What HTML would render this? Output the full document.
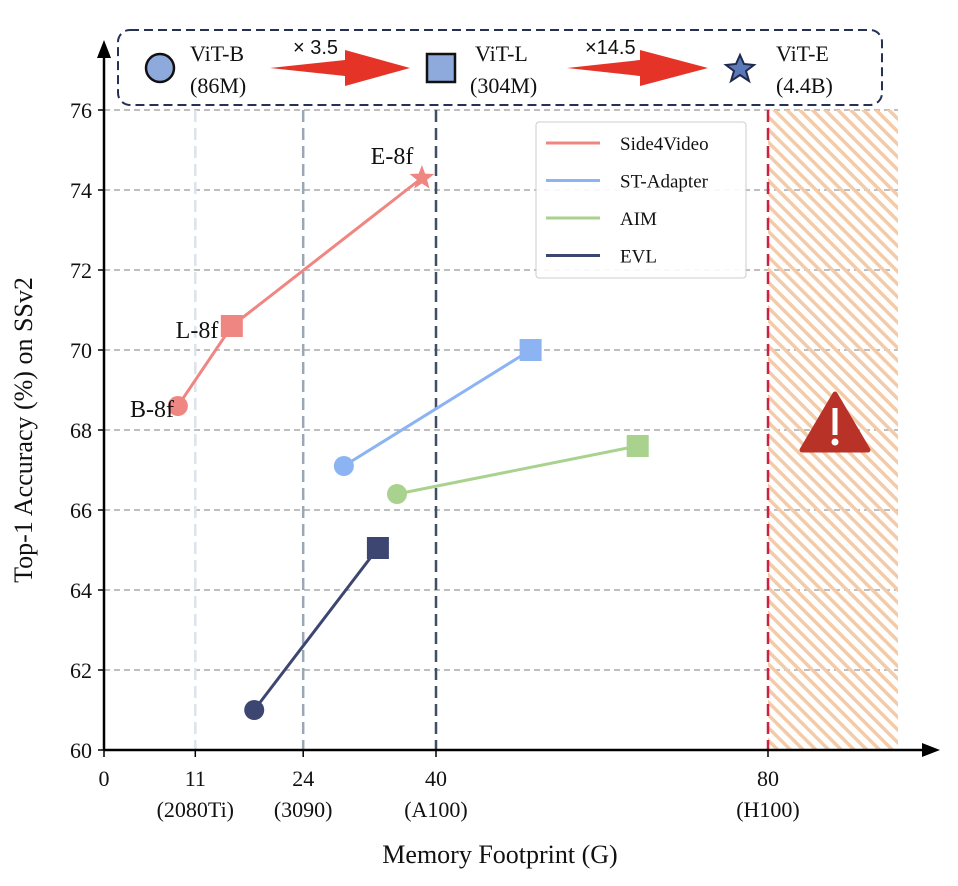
<!DOCTYPE html>
<html><head><meta charset="utf-8"><style>
body{margin:0;background:#fff;}
svg{display:block;font-family:"Liberation Serif",serif;}
</style></head><body>
<svg width="958" height="886" viewBox="0 0 958 886">
<defs>
<pattern id="hatch" patternUnits="userSpaceOnUse" width="9" height="9" patternTransform="rotate(-45)">
<rect x="0" y="0" width="3.5" height="9" fill="#f3cba9"/>
</pattern>
</defs>
<g id="grid"></g>
<rect x="768" y="110" width="130" height="640" fill="url(#hatch)"/>
<g id="vlines"></g>
<g id="series"></g>
<g id="axes"></g>
<g transform="translate(835,422)">
<path d="M0,-28 L33,28 L-33,28 Z" fill="#b83227" stroke="#b83227" stroke-width="5" stroke-linejoin="round"/>
<rect x="-2.5" y="-14" width="5" height="27" fill="#fff"/>
<circle cx="0" cy="20" r="3.5" fill="#fff"/>
</g>
<g>
<rect x="536" y="122" width="210" height="156" rx="3" fill="#fff" fill-opacity="0.9" stroke="#ccc"/>
<g id="legend-items"></g>
</g>
<g>
<rect x="118" y="30" width="764" height="75" rx="12" fill="#fff" stroke="#253255" stroke-width="2" stroke-dasharray="9,5"/>
<circle cx="160" cy="68" r="14" fill="#8ea9db" stroke="#111" stroke-width="2.5"/>
<text x="190" y="61" font-size="22" fill="#111">ViT-B</text>
<text x="190" y="93" font-size="22" fill="#111">(86M)</text>
<path d="M270,68 L345,60 L345,50 L410,68 L345,86 L345,76 Z" fill="#e53427"/>
<text x="293" y="54" font-size="20" font-family="Liberation Sans,sans-serif" fill="#111">× 3.5</text>
<rect x="427" y="54" width="28" height="28" fill="#8ea9db" stroke="#111" stroke-width="2.5"/>
<text x="475" y="61" font-size="22" fill="#111">ViT-L</text>
<text x="470" y="93" font-size="22" fill="#111">(304M)</text>
<path d="M567,68 L640,60 L640,50 L708,68 L640,86 L640,76 Z" fill="#e53427"/>
<text x="585" y="54" font-size="20" font-family="Liberation Sans,sans-serif" fill="#111">×14.5</text>
<path d="M740,55 L744,64 L754,65 L746,71 L749,81 L740,75 L731,81 L734,71 L726,65 L736,64 Z" fill="#5b79b8" stroke="#1f2b4c" stroke-width="2"/>
<text x="776" y="61" font-size="22" fill="#111">ViT-E</text>
<text x="776" y="93" font-size="22" fill="#111">(4.4B)</text>
</g>
<text x="32" y="430" font-size="26" fill="#111" text-anchor="middle" transform="rotate(-90 32 430)">Top-1 Accuracy (%) on SSv2</text>
<text x="500" y="863" font-size="26" fill="#111" text-anchor="middle">Memory Footprint (G)</text>
<text x="152" y="417" font-size="24" fill="#111" text-anchor="middle">B-8f</text>
<text x="197" y="338" font-size="24" fill="#111" text-anchor="middle">L-8f</text>
<text x="392" y="164" font-size="24" fill="#111" text-anchor="middle">E-8f</text>
<script>
const yTicks=[60,62,64,66,68,70,72,74,76];
const xTicks=[0,11,24,40,80];
const xSub=["","(2080Ti)","(3090)","(A100)","(H100)"];
const gpuMem=[11,24,40,80];
const gpuColors=["#dde3ec","#9aa8b6","#3e4f66","#d0203f"];
const seriesNames=["Side4Video","ST-Adapter","AIM","EVL"];
const seriesColors=["#ef8682","#8cb4f2","#a9d28f","#3c4670"];
const side4X=[8.9,15.4,38.3];const side4Y=[68.6,70.6,74.3];
const stX=[28.9,51.4];const stY=[67.1,70.0];
const aimX=[35.3,64.3];const aimY=[66.4,67.6];
const evlX=[18.1,33.0];const evlY=[61.0,65.05];
const NS="http://www.w3.org/2000/svg";
const X=v=>104+v*8.3, Y=v=>750-(v-60)*40;
function mk(p,t,a){const e=document.createElementNS(NS,t);for(const k in a)e.setAttribute(k,a[k]);p.appendChild(e);return e;}
const grid=document.getElementById('grid');
yTicks.forEach(t=>{if(t>60){const l=mk(grid,'line',{x1:104,x2:898,y1:Y(t),y2:Y(t),stroke:'#aaa','stroke-width':1.5,'stroke-dasharray':'6,4'});

}});
const vl=document.getElementById('vlines');
gpuMem.forEach((m,i)=>{const l=mk(vl,'line',{x1:X(m),x2:X(m),y1:110,y2:750,stroke:gpuColors[i],'stroke-width':2.5,'stroke-dasharray':'12,6'});

});
const ax=document.getElementById('axes');
mk(ax,'line',{x1:104,x2:925,y1:750,y2:750,stroke:'#000','stroke-width':2.5});
mk(ax,'path',{d:'M940,750 L922,743 L922,757 Z',fill:'#000'});
mk(ax,'line',{x1:104,x2:104,y1:750,y2:55,stroke:'#000','stroke-width':2.5});
mk(ax,'path',{d:'M104,40 L97,58 L111,58 Z',fill:'#000'});
yTicks.forEach(t=>{mk(ax,'line',{x1:98,x2:104,y1:Y(t),y2:Y(t),stroke:'#000','stroke-width':1.5});
const tx=mk(ax,'text',{x:92,y:Y(t)+8,'font-size':22,'text-anchor':'end',fill:'#111'});tx.textContent=t;

});
xTicks.forEach((t,i)=>{mk(ax,'line',{x1:X(t),x2:X(t),y1:750,y2:757,stroke:'#000','stroke-width':1.5});
const tx=mk(ax,'text',{x:X(t),y:786,'font-size':22,'text-anchor':'middle',fill:'#111'});tx.textContent=t;


if(xSub[i]){const s=mk(ax,'text',{x:X(t),y:817,'font-size':22,'text-anchor':'middle',fill:'#111'});s.textContent=xSub[i];

}});
const sg=document.getElementById('series');
const allX=[side4X,stX,aimX,evlX],allY=[side4Y,stY,aimY,evlY];
function marker(g,kind,cx,cy,c){
 if(kind==0)return mk(g,'circle',{cx:cx,cy:cy,r:10,fill:c});
 if(kind==1)return mk(g,'rect',{x:cx-11,y:cy-11,width:22,height:22,fill:c});
 let d='';for(let k=0;k<10;k++){const r=k%2?5.5:13,a=-Math.PI/2+k*Math.PI/5;d+=(k?'L':'M')+(cx+r*Math.cos(a)).toFixed(1)+','+(cy+r*Math.sin(a)).toFixed(1);}
 return mk(g,'path',{d:d+'Z',fill:c});}
allX.forEach((xs,si)=>{const g=mk(sg,'g',{});


const pts=xs.map((x,j)=>X(x)+','+Y(allY[si][j])).join(' ');
mk(g,'polyline',{points:pts,fill:'none',stroke:seriesColors[si],'stroke-width':3});
xs.forEach((x,j)=>{const m=marker(g,j,X(x),Y(allY[si][j]),seriesColors[si]);

});});
const lg=document.getElementById('legend-items');
seriesNames.forEach((n,i)=>{const y=143+i*37.5;
const g=mk(lg,'g',{});


mk(g,'line',{x1:546,x2:600,y1:y,y2:y,stroke:seriesColors[i],'stroke-width':3});
const t=mk(g,'text',{x:620,y:y+7,'font-size':19,fill:'#111'});t.textContent=n;});
</script>
</svg>
</body></html>
